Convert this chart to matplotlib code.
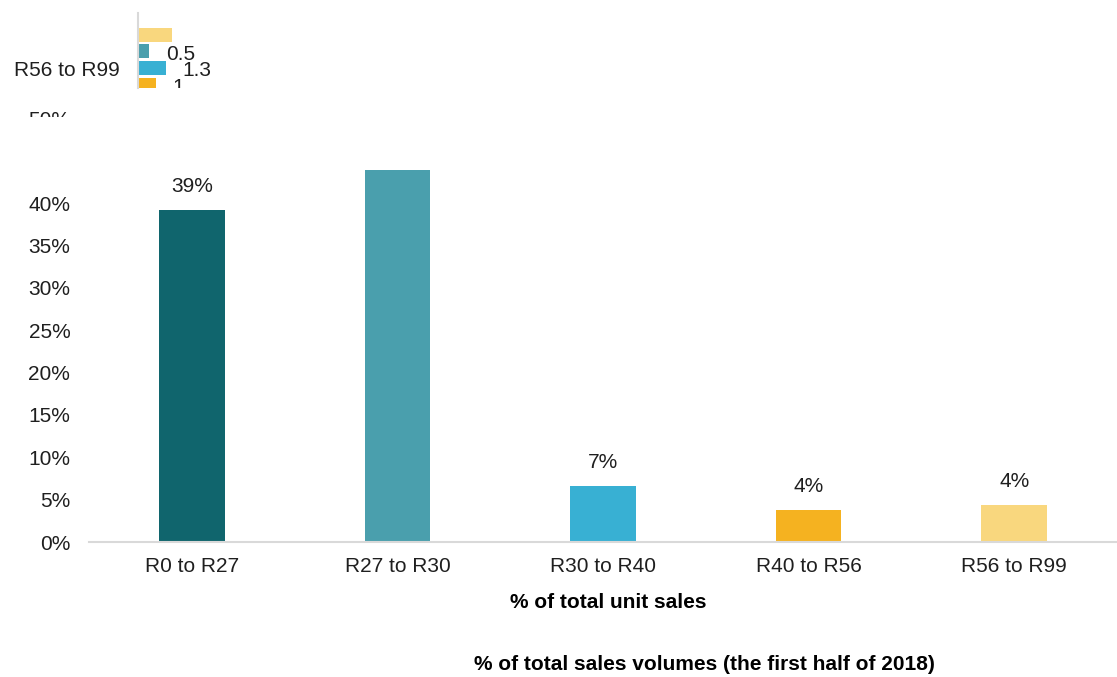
import matplotlib
matplotlib.use("Agg")
import matplotlib.pyplot as plt
import matplotlib.patches as patches
import numpy as np

W, H = 1117, 677

# main chart: share of unit sales per price band
bands = ["R0 to R27", "R27 to R30", "R30 to R40", "R40 to R56", "R56 to R99"]
unit_share = [39.2, 43.9, 6.6, 3.8, 4.4]
bar_labels = ["39%", "", "7%", "4%", "4%"]
bar_colors = ["#10656d", "#4a9fad", "#38b0d3", "#f5b220", "#f9d77e"]
yticks = [0, 5, 10, 15, 20, 25, 30, 35, 40, 45, 50]
ytick_labels = ["0%", "5%", "10%", "15%", "20%", "25%", "30%", "35%", "40%", "", "50%"]

# small inset: grouped horizontal bars for the last band
inset_category = "R56 to R99"
inset_values = [1.65, 0.5, 1.35, 0.85]
inset_labels = ["", "0.5", "1.3", "1"]
inset_colors = ["#f9d77e", "#4a9fad", "#38b0d3", "#f5b220"]
inset_slots = [-2, -1, 0, 1]

TEXT = "#1f1f1f"
AXIS = "#d9d9d9"
FS = 15

plt.rcParams["font.family"] = ["Liberation Sans", "DejaVu Sans"]


def px(x, y, w, h):
    # pixel box (top-left origin) -> figure fraction rect
    return [x / W, 1 - (y + h) / H, w / W, h / H]


fig = plt.figure(figsize=(W / 100, H / 100), dpi=100)

ax = fig.add_axes(px(89, 118.3, 1028, 423.7))
x = np.arange(len(bands))
bars = ax.bar(x, unit_share, width=0.32, color=bar_colors)
for b, lab in zip(bars, bar_labels):
    if lab:
        ax.annotate(lab, (b.get_x() + b.get_width() / 2, b.get_height()),
                    xytext=(0, 10), textcoords="offset points",
                    ha="center", va="bottom", fontsize=FS, color=TEXT)

ax.set_xlim(-0.5, len(bands) - 0.5)
ax.set_ylim(0, 50)
ax.set_yticks(yticks)
ax.set_yticklabels(ytick_labels)
ax.set_xticks(x)
ax.set_xticklabels(bands)
ax.tick_params(axis="both", length=0, labelsize=FS, labelcolor=TEXT)
ax.tick_params(axis="y", pad=13.5)
ax.tick_params(axis="x", pad=10.5)
for s in ["top", "right", "left"]:
    ax.spines[s].set_visible(False)
ax.spines["bottom"].set_color(AXIS)
ax.spines["bottom"].set_linewidth(1.5)

ax.set_xlabel("% of total unit sales", fontsize=FS, fontweight="bold", color="black")
ax.xaxis.set_label_coords((608 - 89) / 1028, -(603 - 542) / 423.7)
ax.xaxis.label.set_va("center")

fig.text(704 / W, 1 - 665 / H, "% of total sales volumes (the first half of 2018)",
         ha="center", va="center", fontsize=FS, fontweight="bold", color="black")

# white strip hiding the lower half of the top tick label
fig.add_artist(patches.Rectangle((0, 1 - 140 / H), 89 / W, 23 / H,
                                 transform=fig.transFigure, facecolor="white",
                                 edgecolor="none", zorder=5))

# inset bars
ax2 = fig.add_axes(px(138, 13, 200, 75))
ax2.set_zorder(6)
ax2.patch.set_visible(False)
slot = 0.2
ys = np.array(inset_slots) * slot
ax2.barh(ys, inset_values, height=0.84 * slot, color=inset_colors, left=0.05)
for yv, v, lab in zip(ys, inset_values, inset_labels):
    if lab:
        ax2.annotate(lab, (v + 0.05, yv), xytext=(12, -2), textcoords="offset points",
                     ha="left", va="center", fontsize=FS, color=TEXT,
                     annotation_clip=False, clip_on=True)
ax2.set_xlim(0, 10)
ax2.set_ylim(20 / 83.5, -55 / 83.5)
ax2.set_yticks([0])
ax2.set_yticklabels([inset_category])
ax2.set_xticks([])
ax2.tick_params(axis="y", length=0, pad=13.5, labelsize=FS, labelcolor=TEXT)
for s in ["top", "right", "bottom"]:
    ax2.spines[s].set_visible(False)
ax2.spines["left"].set_color(AXIS)
ax2.spines["left"].set_linewidth(1.5)

fig.savefig("out.png", dpi=100, facecolor="white")
